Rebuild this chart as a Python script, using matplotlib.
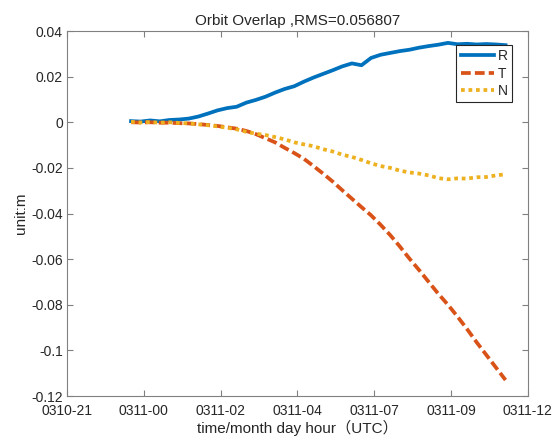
import matplotlib
matplotlib.use("Agg")
import matplotlib.pyplot as plt

# time in hours since 0310-00:00 UTC
hours = [23.6, 23.9, 24.2, 24.5, 24.8, 25.1, 25.4, 25.7, 26.0, 26.3,
         26.6, 26.9, 27.2, 27.5, 27.8, 28.1, 28.4, 28.7, 29.0, 29.3,
         29.6, 29.9, 30.2, 30.5, 30.8, 31.1, 31.4, 31.7, 32.0, 32.3,
         32.6, 32.9, 33.2, 33.5, 33.8, 34.1, 34.4, 34.7, 35.0, 35.3]

R = [0.0005, 0.0003, 0.0008, 0.0004, 0.0010, 0.0012, 0.0016, 0.0025, 0.0038, 0.0052,
     0.0062, 0.0068, 0.0086, 0.0098, 0.0112, 0.0130, 0.0146, 0.0158, 0.0178, 0.0196,
     0.0212, 0.0228, 0.0245, 0.0258, 0.0250, 0.0282, 0.0296, 0.0304, 0.0312, 0.0318,
     0.0327, 0.0334, 0.0340, 0.0348, 0.0342, 0.0344, 0.0341, 0.0343, 0.0341, 0.0338]

T = [0.0000, -0.0001, 0.0000, -0.0002, -0.0002, -0.0004, -0.0005, -0.0008, -0.0012, -0.0016,
     -0.0022, -0.0028, -0.0038, -0.0052, -0.0070, -0.0088, -0.0112, -0.0135, -0.0160, -0.0192,
     -0.0225, -0.0260, -0.0298, -0.0335, -0.0372, -0.0408, -0.0450, -0.0495, -0.0545, -0.0598,
     -0.0648, -0.0700, -0.0752, -0.0800, -0.0852, -0.0907, -0.0965, -0.1020, -0.1075, -0.1130]

N = [0.0002, -0.0001, 0.0001, -0.0002, 0.0000, -0.0003, -0.0005, -0.0009, -0.0013, -0.0018,
     -0.0024, -0.0031, -0.0042, -0.0050, -0.0056, -0.0065, -0.0075, -0.0088, -0.0097, -0.0105,
     -0.0118, -0.0128, -0.0142, -0.0152, -0.0165, -0.0180, -0.0192, -0.0200, -0.0212, -0.0220,
     -0.0225, -0.0233, -0.0245, -0.0250, -0.0246, -0.0247, -0.0241, -0.0240, -0.0233, -0.0228]

xtick_pos = [21.6, 24.0, 26.4, 28.8, 31.2, 33.6, 36.0]
xtick_labels = ["0310-21", "0311-00", "0311-02", "0311-04", "0311-07", "0311-09", "0311-12"]
ytick_pos = [-0.12, -0.10, -0.08, -0.06, -0.04, -0.02, 0.0, 0.02, 0.04]
ytick_labels = ["-0.12", "-0.1", "-0.08", "-0.06", "-0.04", "-0.02", "0", "0.02", "0.04"]

fams = ["Liberation Sans", "Noto Sans CJK SC", "DejaVu Sans"]
plt.rcParams["font.family"] = fams
txt = "#262626"
axc = "#808080"

fig = plt.figure(figsize=(5.52, 4.40), dpi=100)
ax = fig.add_axes([0.1214, 0.10, 0.835, 0.8295])

ax.plot(hours, R, color="#0072BD", lw=2.7, label="R")
ax.plot(hours, T, color="#D95319", lw=2.7, ls=(0, (2.6, 1.1)), label="T")
ax.plot(hours, N, color="#EDB120", lw=2.7, ls=(0, (1, 1)), label="N")

ax.set_xlim(21.6, 36.0)
ax.set_ylim(-0.12, 0.04)
ax.set_xticks(xtick_pos)
ax.set_xticklabels(xtick_labels)
ax.set_yticks(ytick_pos)
ax.set_yticklabels(ytick_labels)

ax.tick_params(direction="in", top=True, right=True, length=4, width=0.8,
               colors=axc, labelcolor=txt, labelsize=10)
ax.tick_params(axis="x", pad=6)
ax.tick_params(axis="y", pad=3)
for s in ax.spines.values():
    s.set_color(axc)
    s.set_linewidth(0.8)

ax.set_title("Orbit Overlap ,RMS=0.056807", fontsize=11, color=txt, pad=4)
ax.set_xlabel("time/month day hour（UTC）", fontsize=11, color=txt, labelpad=1)
ax.set_ylabel("unit:m", fontsize=11, color=txt, labelpad=2)

leg = ax.legend(loc="upper right", bbox_to_anchor=(0.966, 0.962), fontsize=10,
                handlelength=2.4, handletextpad=0.3, borderpad=0.3, labelspacing=0.25,
                fancybox=False, framealpha=1, borderaxespad=0)
leg.get_frame().set_edgecolor("#262626")
leg.get_frame().set_linewidth(0.8)
for t in leg.get_texts():
    t.set_color(txt)

fig.savefig("out.png", dpi=100)
